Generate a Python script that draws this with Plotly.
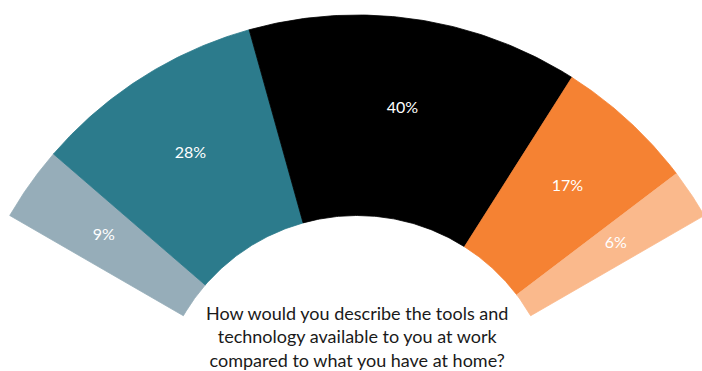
import numpy as np
import plotly.graph_objects as go

# Survey shares (percent) for each answer band, left to right along the arc
shares = [9, 28, 40, 17, 6]
share_labels = ["9%", "28%", "40%", "17%", "6%"]
colors = ["#96ADB9", "#2C7B8C", "#000000", "#F58233", "#FAB98C"]
question = ("How would you describe the tools and<br>"
            "technology available to you at work<br>"
            "compared to what you have at home?")

# Gauge geometry (unit outer radius)
ARC_START = 150.0   # degrees, left end of the arc
ARC_SPAN = 120.0    # degrees covered by 100%
R_OUT, R_IN = 1.0, 0.5
R_LABEL = 0.775

fig = go.Figure()

cum = 0.0
for val, lab, col in zip(shares, share_labels, colors):
    a0 = ARC_START - cum / 100.0 * ARC_SPAN
    a1 = ARC_START - (cum + val) / 100.0 * ARC_SPAN
    cum += val
    t_out = np.radians(np.linspace(a0, a1, 80))
    t_in = t_out[::-1]
    xs = np.concatenate([R_OUT * np.cos(t_out), R_IN * np.cos(t_in), [R_OUT * np.cos(t_out[0])]])
    ys = np.concatenate([R_OUT * np.sin(t_out), R_IN * np.sin(t_in), [R_OUT * np.sin(t_out[0])]])
    fig.add_trace(go.Scatter(
        x=xs, y=ys, mode="lines", fill="toself",
        fillcolor=col, line=dict(color=col, width=0.8),
        hoverinfo="skip", showlegend=False,
    ))
    mid = np.radians((a0 + a1) / 2.0)
    fig.add_trace(go.Scatter(
        x=[R_LABEL * np.cos(mid)], y=[R_LABEL * np.sin(mid)],
        mode="text", text=[lab],
        textfont=dict(family="Lato, sans-serif", size=16, color="white"),
        hoverinfo="skip", showlegend=False,
    ))

fig.add_annotation(
    x=0.0, y=0.199, xref="x", yref="y",
    text=question, showarrow=False, borderpad=0,
    font=dict(family="Lato, sans-serif", size=18, color="#1a1a1a"),
    align="center", yanchor="middle",
)

fig.update_xaxes(range=[-0.8903, 0.8603], visible=False, fixedrange=True)
fig.update_yaxes(range=[0.1122, 1.0374], visible=False, fixedrange=True)
fig.update_layout(
    width=702, height=371,
    margin=dict(l=0, r=0, t=0, b=0),
    paper_bgcolor="white", plot_bgcolor="white",
)

fig.write_html("out.html")
